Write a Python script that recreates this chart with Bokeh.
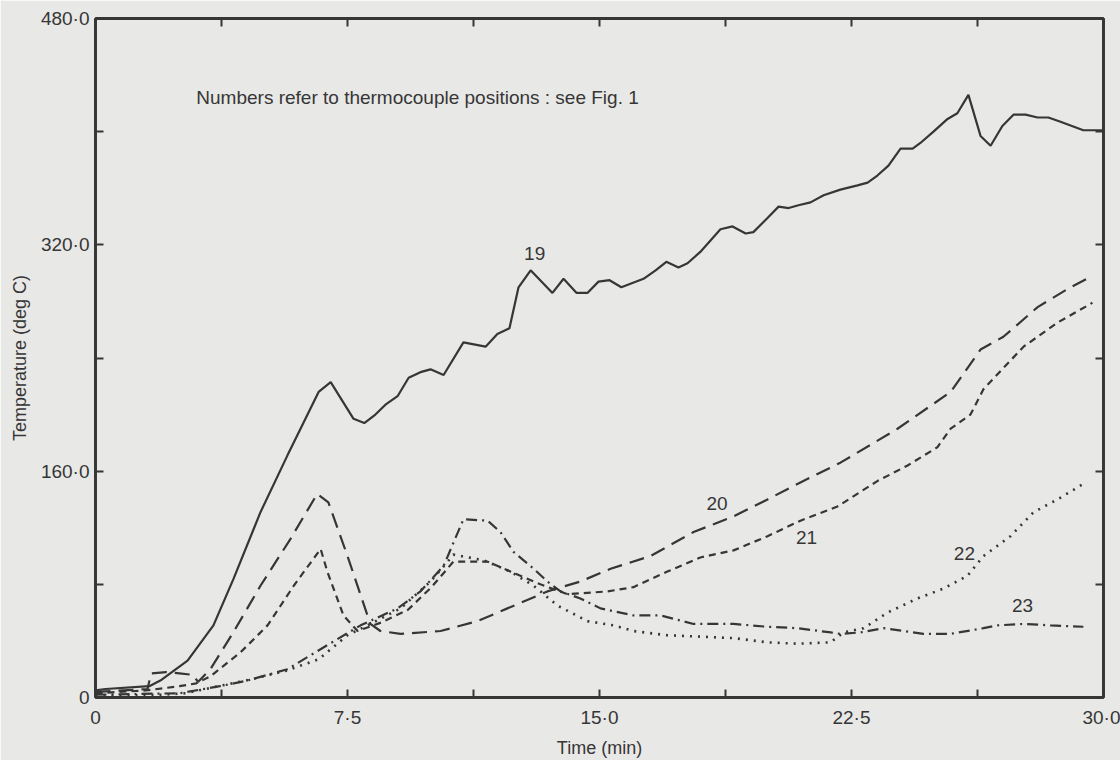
from bokeh.plotting import figure
from bokeh.models import LinearAxis, FixedTicker, Range1d
from bokeh.core.properties import value
from bokeh.embed import file_html
from bokeh.resources import INLINE

# ---- data ----
t19 = [0, 0.3, 1.6, 1.93, 2.74, 3.51, 4.11, 4.91, 5.71, 6.64, 7.0, 7.68, 8.0, 8.33, 8.63, 8.99,
       9.32, 9.67, 9.97, 10.36, 10.95, 11.61, 11.96, 12.32, 12.59, 12.95, 13.6, 13.93, 14.32,
       14.64, 14.97, 15.3, 15.65, 15.98, 16.31, 16.67, 16.99, 17.35, 17.62, 18.0, 18.6, 18.96,
       19.35, 19.58, 20.0, 20.33, 20.63, 20.92, 21.28, 21.67, 22.17, 22.68, 22.98, 23.27, 23.6,
       23.96, 24.32, 24.55, 24.94, 25.36, 25.65, 25.98, 26.34, 26.64, 26.99, 27.32, 27.68,
       28.04, 28.36, 28.72, 29.4, 30.0]
v19 = [5, 6, 8, 12, 26, 51, 84, 131, 171, 216, 223, 197, 194, 200, 207, 213,
       226, 230, 232, 228, 251, 248, 257, 261, 290, 302, 286, 296, 286,
       286, 294, 295, 290, 293, 296, 302, 308, 304, 307, 315, 331, 333,
       328, 329, 339, 347, 346, 348, 350, 355, 359, 362, 364, 369, 376,
       388, 388, 392, 400, 409, 413, 426, 397, 390, 404, 412, 412,
       410, 410, 407, 401, 401]

t20 = [0, 1.55, 1.65, 2.1, 2.5, 2.9, 3.05, 3.42, 4.1, 4.91, 5.8, 6.6, 6.93, 7.5, 8.18, 8.48,
       9.08, 10.27, 11.37, 12.26, 13.45, 14.43, 15.33, 16.52, 17.8, 18.99, 20.0, 20.98,
       22.17, 23.87, 25.45, 26.34, 27.02, 28.04, 29.02, 29.67]
v20 = [4, 6, 17, 18, 17, 16, 11, 20, 46, 79, 112, 144, 138, 100, 52, 47,
       45, 47, 54, 63, 75, 82, 91, 100, 117, 128, 140, 152,
       166, 190, 216, 246, 255, 276, 290, 298]

t21 = [0, 1.5, 2.5, 3.0, 3.42, 4.32, 5.12, 5.9, 6.7, 6.9, 7.38, 7.8, 8.5, 9.3, 10.0, 10.65,
       11.67, 12.35, 13.24, 14.05, 15.24, 16.01, 17.02, 18.0, 18.99, 20.0, 20.98, 22.08,
       23.27, 24.17, 25.06, 25.45, 26.04, 26.43, 27.62, 28.63, 29.67]
v21 = [3, 5, 8, 10, 15, 32, 51, 79, 105, 89, 58, 47, 53, 62, 78, 96,
       96, 89, 80, 73, 75, 78, 89, 99, 104, 114, 125, 135,
       153, 164, 177, 190, 200, 218, 248, 265, 279]

t22 = [0, 2.0, 2.68, 3.66, 4.67, 5.68, 6.64, 7.5, 8.18, 9.08, 9.97, 10.48, 10.65, 11.55,
       12.35, 13.04, 13.75, 14.64, 15.42, 16.01, 17.02, 18.0, 18.99, 20.0, 20.89, 21.88,
       22.26, 22.86, 23.57, 24.46, 25.24, 25.95, 26.43, 27.23, 27.92, 28.63, 29.4]
v22 = [1, 2, 3, 8, 13, 19, 27, 44, 52, 63, 82, 96, 101, 97,
       89, 79, 65, 54, 51, 47, 44, 43, 42, 39, 38, 39,
       46, 49, 60, 70, 77, 86, 100, 114, 131, 140, 151]

t23 = [0, 2.5, 3.7, 4.52, 5.71, 6.9, 7.89, 8.99, 9.67, 10.36, 10.95, 11.67, 12.05, 12.44,
       13.04, 13.45, 13.84, 14.43, 15.03, 16.01, 16.82, 17.8, 18.99, 20.0, 20.89, 21.88,
       22.17, 22.77, 23.45, 24.64, 25.45, 26.43, 26.85, 27.62, 28.42, 29.4]
v23 = [2, 3, 8, 12, 20, 37, 51, 63, 75, 93, 126, 125, 117, 103,
       91, 82, 75, 70, 63, 58, 58, 52, 52, 50, 49, 46,
       45, 46, 49, 45, 45, 49, 51, 52, 51, 50]

curve_names = ["19", "20", "21", "22", "23"]
label_x = [13.07, 18.5, 21.16, 25.86, 27.59]
label_y = [314, 137, 113, 102, 65]

x_ticks = [0, 3.75, 7.5, 11.25, 15, 18.75, 22.5, 26.25, 30]
x_tick_labels = ["0", "", "7·5", "", "15·0", "", "22·5", "", "30·0"]
y_ticks = [0, 80, 160, 240, 320, 400, 480]
y_tick_labels = ["0", "", "160·0", "", "320·0", "", "480·0"]

note = "Numbers refer to thermocouple positions : see Fig. 1"

# ---- styling ----
PAPER = "#e8e8e6"
INK = "#363636"
FONT = "Liberation Sans"

p = figure(width=1120, height=760, output_backend="svg", toolbar_location=None,
           x_range=Range1d(0, 30), y_range=Range1d(0, 480),
           x_axis_location=None, y_axis_location=None,
           min_border_left=95, min_border_right=17, min_border_top=18, min_border_bottom=61)
p.background_fill_color = PAPER
p.border_fill_color = PAPER
p.grid.visible = False
p.outline_line_color = INK
p.outline_line_width = 2.5


def style_axis(ax, ticks, labels, show_labels):
    ax.ticker = FixedTicker(ticks=ticks)
    ax.major_label_overrides = {float(t): l for t, l in zip(ticks, labels)}
    ax.axis_line_color = INK
    ax.axis_line_width = 2.8
    ax.major_tick_line_color = INK
    ax.major_tick_line_width = 2
    ax.major_tick_in = 8
    ax.major_tick_out = 0
    ax.minor_tick_line_color = None
    if show_labels:
        ax.major_label_text_font = FONT
        ax.major_label_text_font_size = "19px"
        ax.major_label_text_color = INK
        ax.axis_label_text_font = FONT
        ax.axis_label_text_font_size = "18px"
        ax.axis_label_text_font_style = "normal"
        ax.axis_label_text_color = INK
    else:
        ax.major_label_text_font_size = "0px"
        ax.major_label_standoff = 0


xb = LinearAxis(axis_label="Time (min)")
style_axis(xb, x_ticks, x_tick_labels, True)
xb.major_label_standoff = 9
xb.axis_label_standoff = 7
p.add_layout(xb, "below")

yl = LinearAxis(axis_label="Temperature (deg C)")
style_axis(yl, y_ticks, y_tick_labels, True)
yl.major_label_standoff = 6
yl.axis_label_standoff = 8
p.add_layout(yl, "left")

xt = LinearAxis()
style_axis(xt, x_ticks, [""] * len(x_ticks), False)
p.add_layout(xt, "above")

yr = LinearAxis()
style_axis(yr, y_ticks, [""] * len(y_ticks), False)
p.add_layout(yr, "right")

# ---- curves ----
p.line(t19, v19, line_color=INK, line_width=2.2)
p.line(t20, v20, line_color=INK, line_width=2.2, line_dash="15 8")
p.line(t21, v21, line_color=INK, line_width=2.2, line_dash="7 5")
p.line(t22, v22, line_color=INK, line_width=2.6, line_dash="2 6")
p.line(t23, v23, line_color=INK, line_width=2.2, line_dash="11 5 2 5")

p.text(x=label_x, y=label_y, text=curve_names, text_font=value(FONT),
       text_font_size="19px", text_color=INK, text_align="center", text_baseline="middle")
p.text(x=[3.0], y=[424], text=[note], text_font=value(FONT), text_font_size="19px",
       text_color=INK, text_align="left", text_baseline="middle")

open("out.html", "w").write(file_html(p, INLINE))
